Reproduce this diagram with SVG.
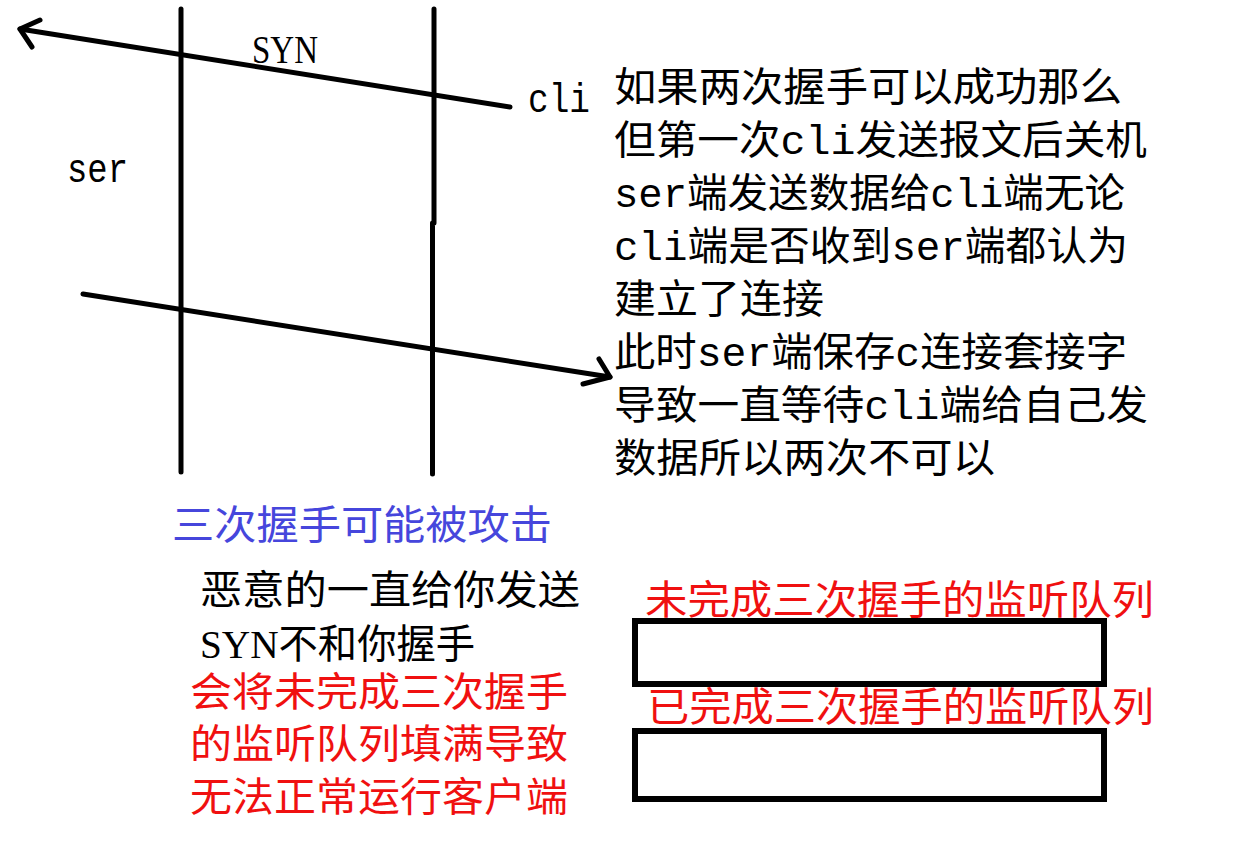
<svg xmlns="http://www.w3.org/2000/svg" width="1243" height="849" viewBox="0 0 1243 849">
<style>
.t{font-family:"Liberation Mono","Noto Sans CJK SC",monospace;font-size:40px;fill:#000}
.s{font-family:"Liberation Serif","Noto Sans CJK SC",serif}
.r{fill:#f01010}
.b{fill:#4646dc}
.ln{stroke:#000;stroke-width:5;fill:none;stroke-linecap:round;stroke-linejoin:round}
.box{stroke:#000;stroke-width:6;fill:#fff}
</style>
<rect width="1243" height="849" fill="#fff"/>
<g id="lifelines">
<path class="ln" d="M181 9 V472"/>
<path class="ln" d="M434 9 V223 M432.5 223 V474"/>
</g>
<g id="connectors">
<path class="ln" d="M510 107 L20 29"/>
<path class="ln" d="M40 20 L20 29 L32 47"/>
<path class="ln" d="M83 294 L610 377"/>
<path class="ln" d="M599 359 L610 377 L583 384"/>
</g>
<g id="labels">
<text class="t s" x="252" y="63" font-size="45" textLength="66" lengthAdjust="spacingAndGlyphs">SYN</text>
<text class="t" x="528" y="112" textLength="62" lengthAdjust="spacingAndGlyphs">cli</text>
<text class="t" x="67" y="182" textLength="61" lengthAdjust="spacingAndGlyphs">ser</text>
</g>
<g id="explain">
<text class="t" x="614" y="101" textLength="508" lengthAdjust="spacingAndGlyphs">如果两次握手可以成功那么</text>
<text class="t" x="614" y="154" textLength="533" lengthAdjust="spacingAndGlyphs">但第一次cli发送报文后关机</text>
<text class="t" x="614" y="207" textLength="511" lengthAdjust="spacingAndGlyphs">ser端发送数据给cli端无论</text>
<text class="t" x="614" y="260" textLength="514" lengthAdjust="spacingAndGlyphs">cli端是否收到ser端都认为</text>
<text class="t" x="614" y="313" textLength="210" lengthAdjust="spacingAndGlyphs">建立了连接</text>
<text class="t" x="614" y="366" textLength="513" lengthAdjust="spacingAndGlyphs">此时ser端保存c连接套接字</text>
<text class="t" x="614" y="419" textLength="534" lengthAdjust="spacingAndGlyphs">导致一直等待cli端给自己发</text>
<text class="t" x="614" y="472" textLength="381" lengthAdjust="spacingAndGlyphs">数据所以两次不可以</text>
</g>
<g id="attack">
<text class="t b" x="172" y="539" textLength="380" lengthAdjust="spacingAndGlyphs">三次握手可能被攻击</text>
<text class="t" x="200" y="604" textLength="380" lengthAdjust="spacingAndGlyphs">恶意的一直给你发送</text>
<text class="t s" x="200" y="658" textLength="275" lengthAdjust="spacingAndGlyphs">SYN不和你握手</text>
<text class="t r" x="190" y="706" textLength="378" lengthAdjust="spacingAndGlyphs">会将未完成三次握手</text>
<text class="t r" x="190" y="758" textLength="378" lengthAdjust="spacingAndGlyphs">的监听队列填满导致</text>
<text class="t r" x="190" y="811" textLength="378" lengthAdjust="spacingAndGlyphs">无法正常运行客户端</text>
</g>
<g id="queue-incomplete">
<text class="t r" x="645" y="614" textLength="509" lengthAdjust="spacingAndGlyphs">未完成三次握手的监听队列</text>
<rect class="box" x="635" y="621" width="469" height="63"/>
</g>
<g id="queue-complete">
<text class="t r" x="647" y="721" textLength="507" lengthAdjust="spacingAndGlyphs">已完成三次握手的监听队列</text>
<rect class="box" x="635" y="731" width="469" height="68"/>
</g>
</svg>
